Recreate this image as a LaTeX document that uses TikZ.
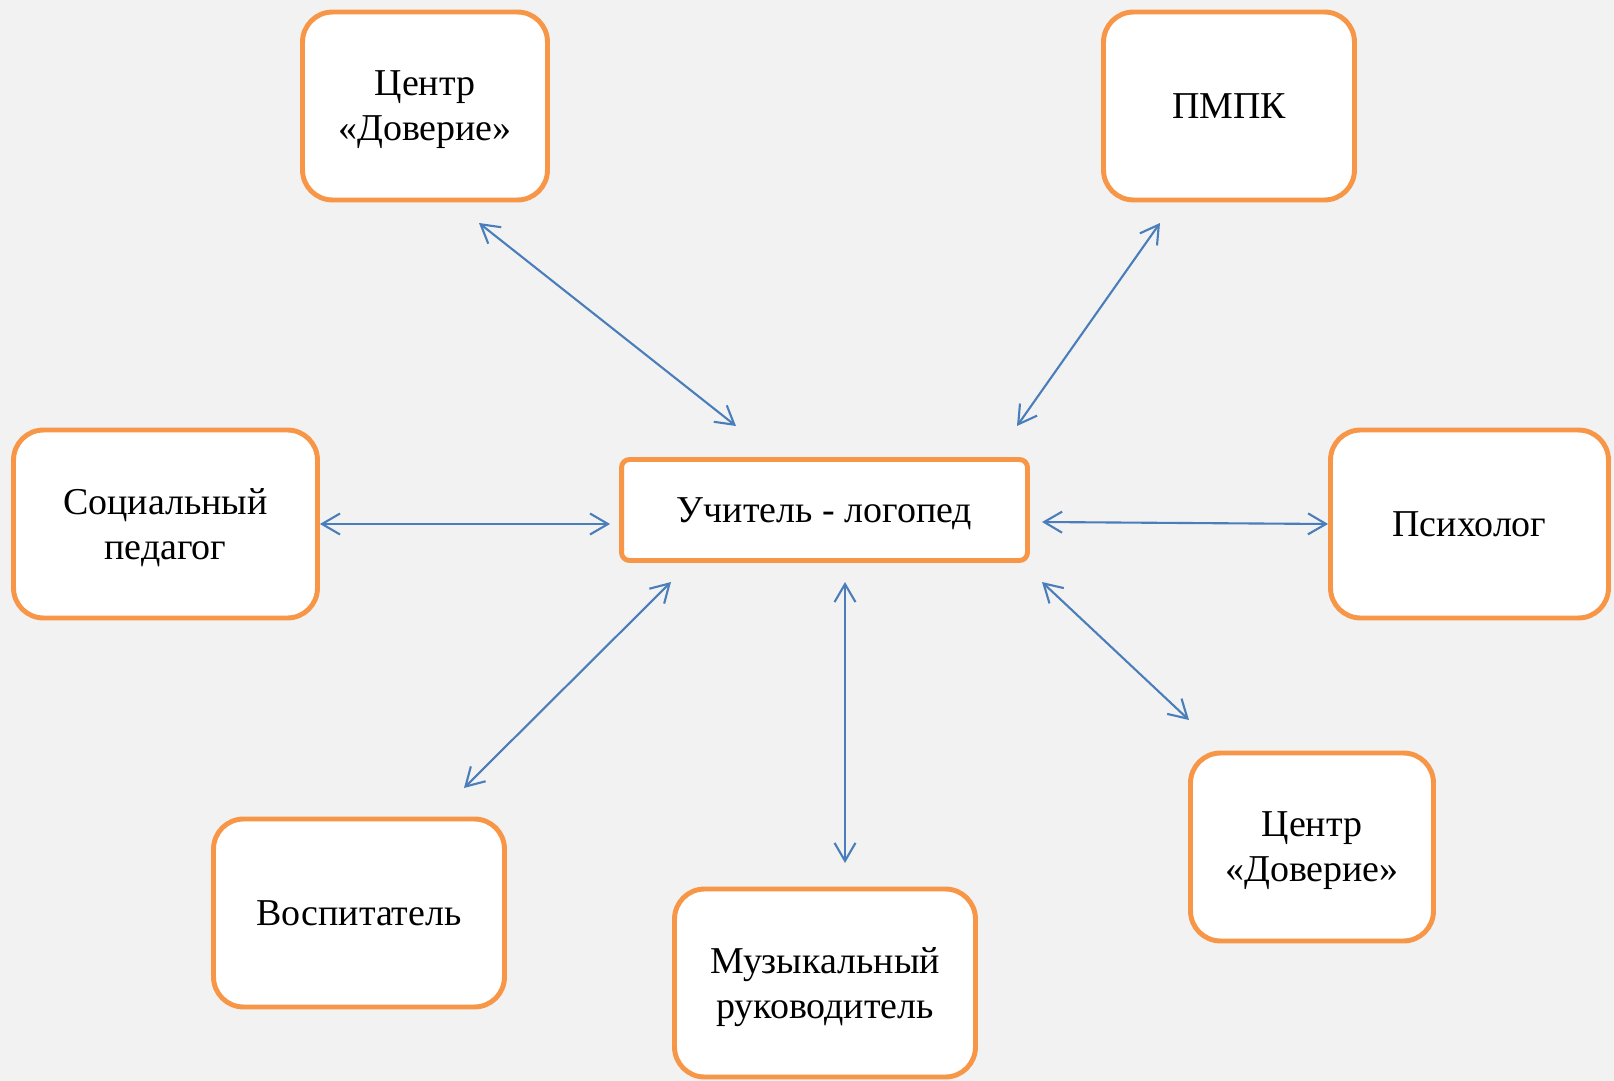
\documentclass[tikz,border=0pt]{standalone}
\usepackage{fontspec}
\setmainfont{Liberation Serif}
\usepackage{tikz}
\usetikzlibrary{positioning,arrows.meta}
\definecolor{boxorange}{HTML}{F79646}
\definecolor{linkblue}{HTML}{4A7EBB}
\definecolor{paper}{HTML}{F2F2F2}
\tikzstyle{box}=[draw=boxorange, fill=white, line width=2.8pt, rounded corners=0.6cm, align=center, text depth=0pt, minimum height=3.76cm, font=\fontsize{21.6}{25.6}\selectfont]
\tikzstyle{mainbox}=[box, rounded corners=0.16cm, minimum width=8.12cm, minimum height=2.02cm]
\tikzstyle{link}=[linkblue, line width=1.2pt, {Straight Barb[length=0.36cm,width=0.42cm]}-{Straight Barb[length=0.36cm,width=0.42cm]}]

\begin{document}
\begin{tikzpicture}[x=0.02cm,y=-0.02cm]
\fill[paper] (0,0) rectangle (1614,1081);

\node[mainbox] at (824.5,510) (log) {Учитель - логопед};

\node[box, minimum width=4.9cm] at (425,106) (doverie1) {Центр\\«Доверие»};
\node[box, minimum width=5.02cm] at (1229,106) (pmpk) {ПМПК};
\node[box, minimum width=6.08cm] at (165.5,524) (soc) {Социальный\\педагог};
\node[box, minimum width=5.56cm] at (1469.5,524) (psy) {Психолог};
\node[box, minimum width=5.82cm] at (359,913) (vos) {Воспитатель};
\node[box, minimum width=6.02cm] at (825,983) (muz) {Музыкальный\\руководитель};
\node[box, minimum width=4.86cm] at (1312,847) (doverie2) {Центр\\«Доверие»};

% free ends of the links
\coordinate (d1a) at (479,223);  \coordinate (d1b) at (736,426);
\coordinate (pma) at (1160,223); \coordinate (pmb) at (1017,426);
\coordinate (psa) at (1042,522);
\coordinate (voa) at (671,582);  \coordinate (vob) at (464,788);
\coordinate (mua) at (845,582);  \coordinate (mub) at (845,863);
\coordinate (d2a) at (1042,582); \coordinate (d2b) at (1189,720);

\draw[link] (d1a) -- (d1b);
\draw[link] (pma) -- (pmb);
\draw[link, shorten >=0.18cm] (soc.east) -- (log.west |- soc.east);
\draw[link] (psa) -- (psy.west);
\draw[link] (voa) -- (vob);
\draw[link] (mua) -- (mub);
\draw[link] (d2a) -- (d2b);
\end{tikzpicture}
\end{document}
